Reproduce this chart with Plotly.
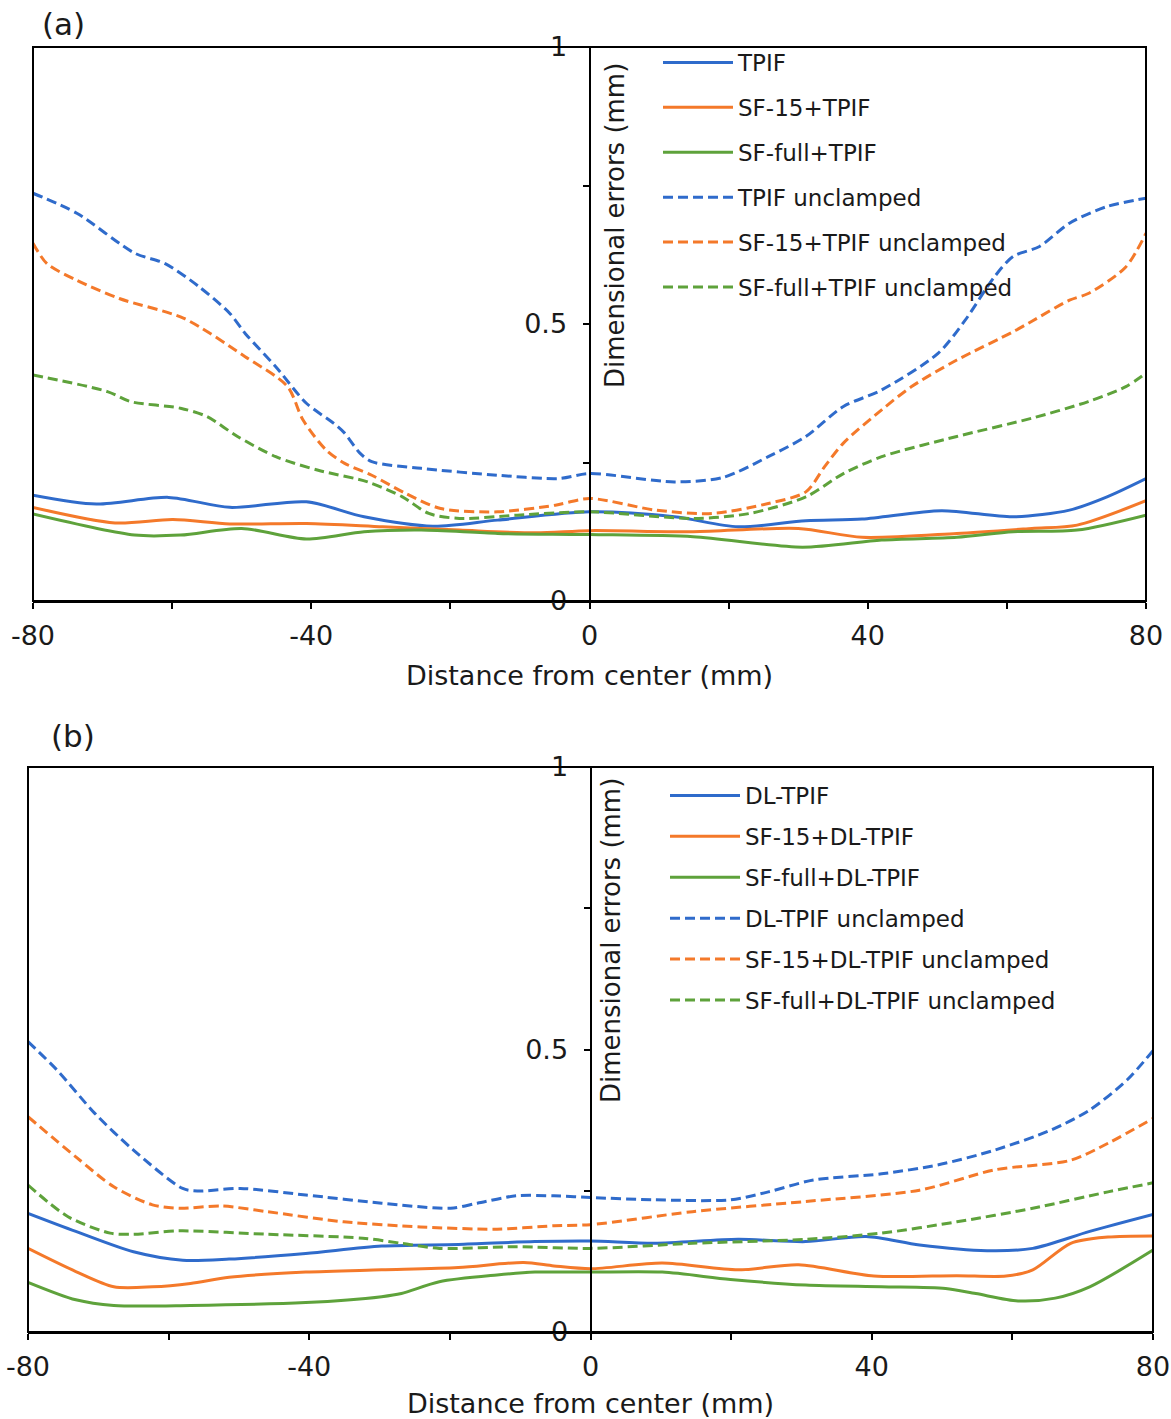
import plotly.graph_objects as go

# ---------------- Panel (a) data ----------------
tpif_x = [-80, -70.9, -60.5, -51.7, -40.7, -32.4, -22.5, -13.2, 0, 12.2, 21.4, 31.1, 39.2, 50.6, 60.9, 69, 74.4, 80]
tpif_y = [0.191, 0.175, 0.187, 0.169, 0.179, 0.152, 0.135, 0.146, 0.161, 0.152, 0.134, 0.145, 0.148, 0.163, 0.152, 0.164, 0.188, 0.221]

sf15_x = [-80, -68.2, -59.9, -51.7, -40.7, -29.7, -18.7, -7.7, 0, 14.9, 30, 39.2, 52.8, 63.6, 70.1, 80]
sf15_y = [0.169, 0.141, 0.147, 0.139, 0.140, 0.134, 0.128, 0.123, 0.127, 0.125, 0.131, 0.115, 0.122, 0.131, 0.137, 0.181]

sffull_x = [-80, -65.4, -58.8, -50, -40.7, -32.4, -24.2, -13.2, 0, 14.9, 30.6, 42, 52.8, 60.9, 70.1, 80]
sffull_y = [0.157, 0.119, 0.119, 0.131, 0.112, 0.125, 0.128, 0.122, 0.120, 0.116, 0.097, 0.110, 0.115, 0.125, 0.128, 0.155]

tpif_unc_x = [-80, -73.7, -65.4, -61, -56.1, -51.7, -49.5, -45.1, -40.7, -36.8, -35.2, -33, -31.3, -24.2, -13.2, -4.4, 0,
              12.2, 19.2, 25.7, 31.1, 36.5, 42, 50.1, 53.9, 58.2, 60.9, 64.7, 69, 74.4, 80]
tpif_unc_y = [0.736, 0.700, 0.628, 0.609, 0.567, 0.519, 0.483, 0.423, 0.357, 0.321, 0.303, 0.267, 0.2515, 0.2395, 0.227, 0.221, 0.23,
              0.215, 0.223, 0.2605, 0.297, 0.351, 0.381, 0.447, 0.505, 0.585, 0.622, 0.640, 0.682, 0.712, 0.727]

sf15_unc_x = [-80, -78, -73.7, -67.6, -58.3, -49.5, -43.4, -41.2, -37.9, -35.2, -31.3, -26.4, -21.4, -13.2, -4.9, 0,
              9.5, 17.6, 25.7, 31.1, 33.8, 36.5, 42, 46.3, 52.8, 60.9, 63.6, 69, 71.7, 77.1, 80]
sf15_unc_y = [0.646, 0.609, 0.579, 0.546, 0.510, 0.441, 0.387, 0.327, 0.273, 0.2485, 0.227, 0.194, 0.167, 0.161, 0.173, 0.185,
              0.164, 0.158, 0.176, 0.197, 0.2425, 0.285, 0.345, 0.387, 0.435, 0.486, 0.505, 0.543, 0.555, 0.603, 0.664]

sffull_unc_x = [-80, -69.3, -66, -58.8, -55, -50.6, -45.1, -39, -31.9, -26.9, -23.1, -18.7, -10.4, 0,
                14.9, 23, 31.1, 36.5, 42, 52.8, 63.6, 71.7, 77.1, 80]
sffull_unc_y = [0.408, 0.378, 0.36, 0.348, 0.333, 0.297, 0.2605, 0.236, 0.215, 0.188, 0.158, 0.149, 0.155, 0.161,
                0.149, 0.158, 0.188, 0.230, 0.2605, 0.297, 0.330, 0.360, 0.387, 0.411]

# ---------------- Panel (b) data ----------------
dl_x = [-80, -73.2, -65, -58, -51.4, -40.5, -29.7, -18.8, -7.9, 0, 9.1, 21, 30.6, 39.2, 46.8, 56.4, 62.9, 71, 80]
dl_y = [0.210, 0.178, 0.142, 0.127, 0.129, 0.139, 0.152, 0.155, 0.160, 0.161, 0.157, 0.164, 0.160, 0.169, 0.154, 0.144, 0.148, 0.178, 0.208]

sf15dl_x = [-80, -73.2, -67.8, -62.3, -56.9, -51.4, -40.5, -29.7, -18.8, -9.5, -5.2, 0, 10.2, 21, 29.6, 40.3, 52.1, 59.1, 62.9, 68.3, 73.6, 80]
sf15dl_y = [0.148, 0.107, 0.080, 0.080, 0.086, 0.097, 0.106, 0.110, 0.114, 0.123, 0.117, 0.112, 0.122, 0.110, 0.119, 0.099, 0.0997, 0.099, 0.110, 0.157, 0.168, 0.170]

sffulldl_x = [-80, -73.2, -67.8, -56.9, -40.5, -29.7, -26.9, -21.5, -13.3, -7.9, 0, 10.2, 19.9, 30.6, 41.4, 50.5, 54.8, 60.8, 66.1, 71, 80]
sffulldl_y = [0.088, 0.057, 0.047, 0.047, 0.052, 0.0625, 0.068, 0.089, 0.101, 0.106, 0.106, 0.106, 0.093, 0.083, 0.080, 0.077, 0.068, 0.055, 0.060, 0.080, 0.145]

dl_unc_x = [-80, -75.9, -70.5, -65, -58, -55.8, -49.8, -40.5, -29.7, -19.9, -16.1, -10.6, -5.2, 0,
            9.1, 19.9, 25.3, 31.7, 41.4, 49.5, 57.5, 65.6, 71, 76.3, 80]
dl_unc_y = [0.514, 0.464, 0.387, 0.322, 0.254, 0.2495, 0.254, 0.2425, 0.228, 0.219, 0.228, 0.241, 0.241, 0.238,
            0.234, 0.234, 0.248, 0.269, 0.280, 0.296, 0.322, 0.358, 0.393, 0.446, 0.498]

sf15dl_unc_x = [-80, -73.2, -67.8, -62.3, -58.5, -52.5, -46, -35.1, -24.2, -13.3, -5.2, 0, 14.5, 30.6, 46.8, 57.5, 68.3, 73.6, 80]
sf15dl_unc_y = [0.381, 0.310, 0.257, 0.225, 0.219, 0.223, 0.213, 0.195, 0.186, 0.182, 0.188, 0.190, 0.213, 0.231, 0.251, 0.287, 0.304, 0.334, 0.378]

sffulldl_unc_x = [-80, -74.3, -68.3, -65, -58.5, -46, -32.4, -26.9, -21.5, -10.6, 0, 14.5, 30.6, 41.4, 52.1, 62.9, 73.6, 80]
sffulldl_unc_y = [0.260, 0.204, 0.175, 0.173, 0.179, 0.173, 0.166, 0.157, 0.148, 0.151, 0.148, 0.157, 0.164, 0.175, 0.195, 0.219, 0.248, 0.264]

# ticks
x_tickvals = [-80, -60, -40, -20, 0, 20, 40, 60, 80]
x_ticktext = ["-80", "", "-40", "", "0", "", "40", "", "80"]
y_tickvals = [0, 0.25, 0.5, 0.75, 1]
y_ticktext = ["0", "", "0.5", "", "1"]

BLUE = "#2F6BCB"
ORANGE = "#F4792A"
GREEN = "#5EA23B"
DASH = "10px,5px"
FONT = "DejaVu Sans"
TXT = "#1a1a1a"

W, H = 1171, 1419

fig = go.Figure()

panel_a = [
    ("TPIF", tpif_x, tpif_y, BLUE, "solid"),
    ("SF-15+TPIF", sf15_x, sf15_y, ORANGE, "solid"),
    ("SF-full+TPIF", sffull_x, sffull_y, GREEN, "solid"),
    ("TPIF unclamped", tpif_unc_x, tpif_unc_y, BLUE, DASH),
    ("SF-15+TPIF unclamped", sf15_unc_x, sf15_unc_y, ORANGE, DASH),
    ("SF-full+TPIF unclamped", sffull_unc_x, sffull_unc_y, GREEN, DASH),
]
panel_b = [
    ("DL-TPIF", dl_x, dl_y, BLUE, "solid"),
    ("SF-15+DL-TPIF", sf15dl_x, sf15dl_y, ORANGE, "solid"),
    ("SF-full+DL-TPIF", sffulldl_x, sffulldl_y, GREEN, "solid"),
    ("DL-TPIF unclamped", dl_unc_x, dl_unc_y, BLUE, DASH),
    ("SF-15+DL-TPIF unclamped", sf15dl_unc_x, sf15dl_unc_y, ORANGE, DASH),
    ("SF-full+DL-TPIF unclamped", sffulldl_unc_x, sffulldl_unc_y, GREEN, DASH),
]

for i, (name, xs, ys, col, dash) in enumerate(panel_a):
    fig.add_trace(go.Scatter(x=xs, y=ys, name=name, mode="lines",
                             line=dict(color=col, width=3, dash=dash, shape="spline", smoothing=0.8),
                             xaxis="x", yaxis="y", legend="legend", legendgroup="a%d" % i))
for i, (name, xs, ys, col, dash) in enumerate(panel_b):
    fig.add_trace(go.Scatter(x=xs, y=ys, name=name, mode="lines",
                             line=dict(color=col, width=3, dash=dash, shape="spline", smoothing=0.8),
                             xaxis="x2", yaxis="y2", legend="legend2", legendgroup="b%d" % i))

# panel geometry (pixels)
a_l, a_r, a_t, a_b = 33, 1146, 47, 601
b_l, b_r, b_t, b_b = 28, 1153, 767, 1332

def xdom(l, r):
    return [l / W, r / W]

def ydom(t, b):
    return [1 - b / H, 1 - t / H]

xaxis_common = dict(range=[-80, 80], tickvals=x_tickvals, ticktext=x_ticktext,
                    ticks="outside", ticklen=6, tickwidth=1.5, tickcolor="black",
                    showline=True, linecolor="black", linewidth=2, showgrid=False, zeroline=False,
                    automargin=False,
                    tickfont=dict(family=FONT, size=27, color=TXT), ticklabelstandoff=4,
                    title=dict(text="Distance from center (mm)", font=dict(family=FONT, size=27, color=TXT), standoff=16))
yaxis_common = dict(range=[0, 1], tickvals=y_tickvals, ticktext=y_ticktext,
                    ticks="outside", ticklen=6, tickwidth=1.5, tickcolor="black",
                    showline=True, linecolor="black", linewidth=2, showgrid=False, zeroline=False,
                    automargin=False,
                    tickfont=dict(family=FONT, size=27, color=TXT), ticklabelstandoff=10,
                    anchor="free", side="left")

fig.update_layout(
    width=W, height=H,
    margin=dict(l=0, r=0, t=0, b=0, autoexpand=False),
    paper_bgcolor="white", plot_bgcolor="white",
    font=dict(family=FONT, color=TXT),
    xaxis=dict(domain=xdom(a_l, a_r), anchor="y", **xaxis_common),
    yaxis=dict(domain=ydom(a_t, a_b), position=(a_l + (a_r - a_l) / 2) / W, **yaxis_common),
    xaxis2=dict(domain=xdom(b_l, b_r), anchor="y2", **xaxis_common),
    yaxis2=dict(domain=ydom(b_t, b_b), position=(b_l + (b_r - b_l) / 2) / W, **yaxis_common),
    legend=dict(x=658 / W, y=1 - 41 / H, xanchor="left", yanchor="top", itemwidth=70,
                font=dict(family=FONT, size=23, color=TXT), tracegroupgap=12,
                bgcolor="rgba(0,0,0,0)"),
    legend2=dict(x=665 / W, y=1 - 774 / H, xanchor="left", yanchor="top", itemwidth=70,
                 font=dict(family=FONT, size=23, color=TXT), tracegroupgap=8,
                 bgcolor="rgba(0,0,0,0)"),
    showlegend=True,
)

# frame boxes
for xr, yr in (("x domain", "y domain"), ("x2 domain", "y2 domain")):
    fig.add_shape(type="rect", xref=xr, yref=yr, x0=0, x1=1, y0=0, y1=1,
                  line=dict(color="black", width=2), fillcolor="rgba(0,0,0,0)", layer="above")

# y-axis titles (placed to the right of the central axis)
fig.add_annotation(text="Dimensional errors (mm)", xref="paper", yref="paper",
                   x=615 / W, y=1 - 225 / H, textangle=-90, showarrow=False,
                   xanchor="center", yanchor="middle",
                   font=dict(family=FONT, size=26, color=TXT))
fig.add_annotation(text="Dimensional errors (mm)", xref="paper", yref="paper",
                   x=611 / W, y=1 - 941 / H, textangle=-90, showarrow=False,
                   xanchor="center", yanchor="middle",
                   font=dict(family=FONT, size=26, color=TXT))

# panel labels
fig.add_annotation(text="(a)", xref="paper", yref="paper", x=63 / W, y=1 - 24 / H,
                   xanchor="center", yanchor="middle",
                   showarrow=False, font=dict(family=FONT, size=31, color=TXT))
fig.add_annotation(text="(b)", xref="paper", yref="paper", x=73 / W, y=1 - 736 / H,
                   xanchor="center", yanchor="middle",
                   showarrow=False, font=dict(family=FONT, size=31, color=TXT))

fig.write_html("out.html")
